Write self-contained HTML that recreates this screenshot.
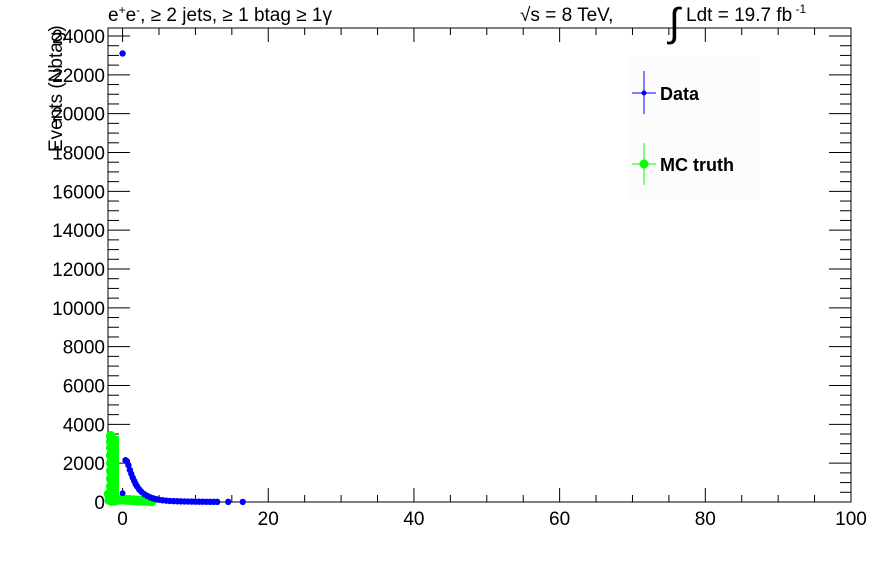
<!DOCTYPE html>
<html><head><meta charset="utf-8"><style>
html,body{margin:0;padding:0;background:#fff;width:896px;height:572px;overflow:hidden}
svg{display:block;font-family:"Liberation Sans",sans-serif}
</style></head><body>
<svg id="chart" width="896" height="572">
<rect x="0" y="0" width="896" height="572" fill="#fff"/>
<g id="axes"></g>
<g id="marks"></g>
<text x="108" y="21" font-size="19">e<tspan dy="-7" font-size="12">+</tspan><tspan dy="7">e</tspan><tspan dy="-7" font-size="12">-</tspan><tspan dy="7">, ≥ 2 jets, ≥ 1 btag ≥ 1γ</tspan></text>
<text x="520" y="21" font-size="19">√s = 8 TeV,</text>
<text x="669" y="36" font-size="40">∫</text>
<text x="686" y="21" font-size="19">Ldt = 19.7 fb<tspan dy="-8" font-size="12"> -1</tspan></text>
<text transform="translate(62,152) rotate(-90)" font-size="19">Events (Nbtag)</text>
<g>
<rect x="627" y="57" width="133" height="143" fill="#fcfcfc"/>
<g>
<line x1="632" y1="93" x2="656" y2="93" stroke="#0000ff" stroke-width="1"/>
<line x1="644" y1="71" x2="644" y2="114" stroke="#0000ff" stroke-width="1"/>
<circle cx="644" cy="93" r="2.5" fill="#0000ff"/>
<text x="660" y="100" font-size="18" font-weight="bold">Data</text></g>
<g>
<line x1="632" y1="164" x2="656" y2="164" stroke="#00ff00" stroke-width="1"/>
<line x1="644" y1="143" x2="644" y2="185" stroke="#00ff00" stroke-width="1"/>
<circle cx="644" cy="164" r="4.5" fill="#00ff00"/>
<text x="660" y="171" font-size="18" font-weight="bold">MC truth</text></g>
</g>
</svg>
<script>
const xTicks=[0,20,40,60,80,100];
const yTicks=[0,2000,4000,6000,8000,10000,12000,14000,16000,18000,20000,22000,24000];
const dataX=[0,0.4,0.6,0.8,1.0,1.2,1.4,1.6,1.8,2.0,2.3,2.6,3.0,3.4,3.8,4.2,4.6,5.0,5.5,6.0,6.5,7.0,7.5,8.0,8.5,9.0,9.5,10,10.5,11,11.5,12,12.5,13,14.5,16.5];
const dataY=[23100,2150,2100,1900,1650,1450,1250,1080,920,800,640,520,400,310,240,190,150,115,90,70,55,45,38,32,28,24,20,18,16,14,12,10,9,8,6,5];
const dataLowX=[0];
const dataLowY=[450];
const mcX=[-1.6,-1.6,-1.6,-1.6,-1.6,-1.6,-1.6,-1.6,-1.4,-1.4,-1.4,-1.4,-1.3,-1.3,-1.2,-1.9,-1.8,-1.5,-1.0,-0.5,0,0.5,1.0,1.5,2.0,2.5,3.0,3.5,4.0];
const mcY=[3400,3100,2800,2400,2000,1600,1200,800,3200,2500,1700,900,600,300,150,400,100,60,80,120,130,110,100,90,80,70,60,50,40];
const X0=-2,X1=100,L=108,R=851,T=28,B=502,YMAX=24412;
function sx(v){return L+(v-X0)/(X1-X0)*(R-L);}
function sy(v){return B-v/YMAX*(B-T);}
const NS="http://www.w3.org/2000/svg";
const axes=document.getElementById('axes'),marks=document.getElementById('marks');
function mk(tag,attrs,parent){const e=document.createElementNS(NS,tag);for(const k in attrs)e.setAttribute(k,attrs[k]);parent.appendChild(e);return e;}
const frame=mk('rect',{x:L,y:T,width:R-L,height:B-T,fill:'none',stroke:'#000','stroke-width':1},axes);


for(let v=0;v<=100;v+=5){const maj=v%20===0;const h=maj?14:7;
 const t1=mk('line',{x1:sx(v),x2:sx(v),y1:B,y2:B-h,stroke:'#000'},axes);
 
 
 const t2=mk('line',{x1:sx(v),x2:sx(v),y1:T,y2:T+h,stroke:'#000'},axes);
 
 }
xTicks.forEach(v=>{const t=mk('text',{x:sx(v),y:B+23,'font-size':19,'text-anchor':'middle'},axes);t.textContent=v;
 
 });
for(let v=0;v<=24000;v+=500){const maj=v%2000===0;const h=maj?22:11;
 const t1=mk('line',{x1:L,x2:L+h,y1:sy(v),y2:sy(v),stroke:'#000'},axes);
 
 
 const t2=mk('line',{x1:R,x2:R-h,y1:sy(v),y2:sy(v),stroke:'#000'},axes);
 
 }
yTicks.forEach(v=>{const t=mk('text',{x:L-3,y:sy(v)+7,'font-size':19,'text-anchor':'end'},axes);t.textContent=v;
 
 });
const band=mk('rect',{x:sx(-2),y:sy(3400),width:sx(-0.5)-sx(-2),height:sy(0)-sy(3400),fill:'#00ff00'},marks);


mcX.forEach((x,i)=>{const c=mk('circle',{cx:sx(x),cy:sy(mcY[i]),r:5,fill:'#00ff00'},marks);
 
 });
dataX.forEach((x,i)=>{const c=mk('circle',{cx:sx(x),cy:sy(dataY[i]),r:3.2,fill:'#0000ff'},marks);
 
 });
dataLowX.forEach((x,i)=>{const c=mk('circle',{cx:sx(x),cy:sy(dataLowY[i]),r:3,fill:'#0000ff'},marks);
 
 });
</script>
</body></html>
